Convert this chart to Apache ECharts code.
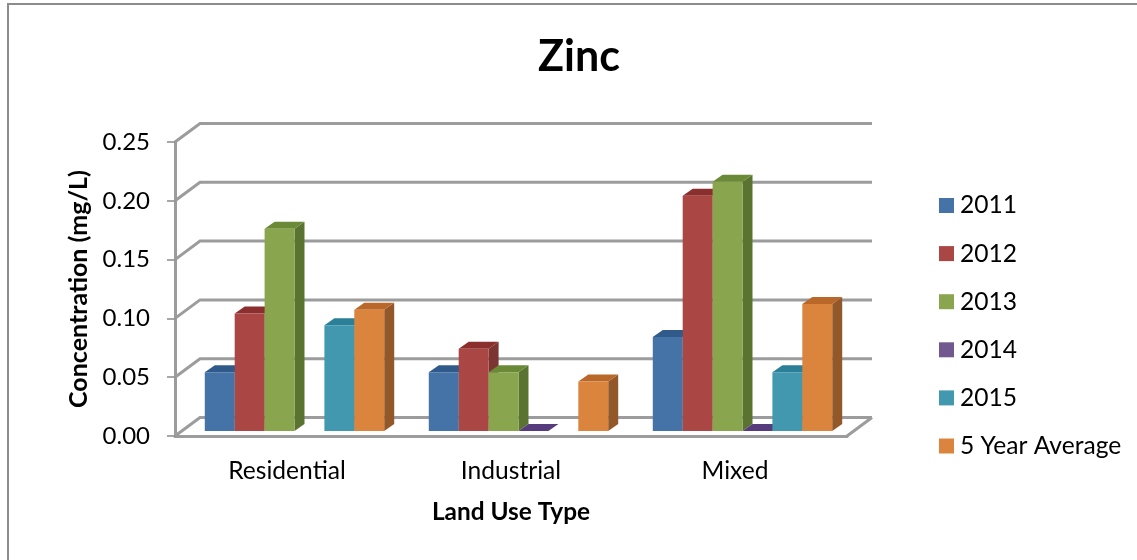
<!DOCTYPE html>
<html>
<head>
<meta charset="utf-8">
<style>html,body{margin:0;padding:0;background:#fff}#chart{width:1137px;height:560px}</style>
<script src="https://cdn.jsdelivr.net/npm/echarts@6/dist/echarts.min.js"></script>
</head>
<body>
<div id="chart"></div>
<script>
// Zinc concentration by land use type, drawn as sheared 3D-look columns.
const categories = ['Residential', 'Industrial', 'Mixed'];
const yTicks = [0, 0.05, 0.10, 0.15, 0.20, 0.25];

const s2011 = [0.05, 0.05, 0.08];
const s2012 = [0.10, 0.07, 0.20];
const s2013 = [0.172, 0.05, 0.212];
const s2014 = [null, 0, 0];
const s2015 = [0.09, null, 0.05];
const sAverage = [0.103, 0.042, 0.108];

const seriesNames = ['2011', '2012', '2013', '2014', '2015', '5 Year Average'];
const seriesValues = [s2011, s2012, s2013, s2014, s2015, sAverage];
const faceColors = ['#4573A7', '#AA4644', '#89A54E', '#71588F', '#4298AF', '#DB843D'];
const topColors = ['#2F5A8A', '#8A2F2D', '#6A8A38', '#563C7C', '#2B7F97', '#B9682A'];
const sideColors = ['#35557E', '#7C3432', '#5B7330', '#513D6B', '#2F6F82', '#93582A'];

const FONT = 'Lato, "Open Sans", sans-serif';
const GRID_COLOR = '#9C9C9C';
const GRID_WIDTH = 3;

// Oblique projection of the plot box
const WALL_DX = 25, WALL_DY = 18.5;
const BAR_INSET_DY = 5;
const BAR_DEPTH_DX = 10, BAR_DEPTH_DY = 7;
const BAR_WIDTH_RATIO = 0.1335;
const GROUP_SHIFT = 7.5;

function wallLines(params, api) {
  const p = api.coord([0, api.value(0)]);
  const band = api.size([1, 0])[0];
  const left = p[0] - band / 2;
  const right = left + band * categories.length;
  const children = [{
    type: 'polyline',
    shape: { points: [[left, p[1]], [left + WALL_DX, p[1] - WALL_DY], [right + WALL_DX, p[1] - WALL_DY]] },
    style: { fill: null, stroke: GRID_COLOR, lineWidth: GRID_WIDTH }
  }];
  if (api.value(0) === 0) {
    children.push({
      type: 'line',
      shape: { x1: right, y1: p[1], x2: right + WALL_DX, y2: p[1] - WALL_DY },
      style: { stroke: GRID_COLOR, lineWidth: GRID_WIDTH }
    });
  }
  return { type: 'group', children };
}

function columnRenderer(index) {
  return function (params, api) {
    const top = api.coord([api.value(0), api.value(1)]);
    const base = api.coord([api.value(0), 0]);
    const band = api.size([1, 0])[0];
    const w = band * BAR_WIDTH_RATIO;
    const x0 = top[0] + GROUP_SHIFT + (index - 3) * w;
    const x1 = x0 + w;
    const yTop = top[1] - BAR_INSET_DY;
    const yBase = base[1] - BAR_INSET_DY;
    const dx = BAR_DEPTH_DX, dy = BAR_DEPTH_DY;
    const poly = (points, fill) => ({ type: 'polygon', shape: { points }, style: { fill } });
    return {
      type: 'group',
      children: [
        poly([[x1, yBase], [x1 + dx, yBase - dy], [x1 + dx, yTop - dy], [x1, yTop]], sideColors[index]),
        poly([[x0, yTop], [x1, yTop], [x1 + dx, yTop - dy], [x0 + dx, yTop - dy]], topColors[index]),
        poly([[x0, yBase], [x1, yBase], [x1, yTop], [x0, yTop]], faceColors[index])
      ]
    };
  };
}

const columnSeries = seriesNames.map((name, i) => ({
  type: 'custom',
  name,
  itemStyle: { color: faceColors[i] },
  renderItem: columnRenderer(i),
  encode: { x: 0, y: 1 },
  z: 3 + i,
  clip: false,
  silent: true,
  data: seriesValues[i].map((v, c) => [c, v]).filter(d => d[1] !== null)
}));

const chart = echarts.init(document.getElementById('chart'), null, { renderer: 'canvas' });
chart.setOption({
  animation: false,
  backgroundColor: '#ffffff',
  title: {
    text: 'Zinc',
    left: 533, top: 31,
    textStyle: { fontFamily: FONT, fontWeight: 'bold', fontSize: 43, color: '#000' }
  },
  grid: { left: 175, right: 290, top: 142, bottom: 124, containLabel: false },
  legend: {
    orient: 'vertical',
    left: 934, top: 188,
    itemWidth: 15, itemHeight: 15, itemGap: 23.1,
    icon: 'rect',
    data: seriesNames,
    selectedMode: false,
    textStyle: { fontFamily: FONT, fontSize: 24.6, color: '#000', padding: [0, 0, 0, 1] }
  },
  xAxis: {
    type: 'category',
    data: categories,
    name: 'Land Use Type',
    nameLocation: 'middle',
    nameGap: 64,
    nameTextStyle: { fontFamily: FONT, fontWeight: 'bold', fontSize: 24.4, color: '#000' },
    axisLine: { show: true, lineStyle: { color: GRID_COLOR, width: GRID_WIDTH } },
    axisTick: { show: false },
    axisLabel: { fontFamily: FONT, fontSize: 24.6, color: '#000', margin: 23 }
  },
  yAxis: {
    type: 'value',
    min: 0, max: 0.25, interval: 0.05,
    name: 'Concentration (mg/L)',
    nameLocation: 'middle',
    nameGap: 82,
    nameRotate: 90,
    nameTextStyle: { fontFamily: FONT, fontWeight: 'bold', fontSize: 25, color: '#000' },
    axisLine: { show: true, lineStyle: { color: GRID_COLOR, width: GRID_WIDTH } },
    axisTick: { show: true, length: 8, lineStyle: { color: '#8a8a8a', width: 1.5 } },
    splitLine: { show: false },
    axisLabel: { fontFamily: FONT, fontSize: 24, color: '#000', margin: 25, formatter: v => v.toFixed(2) }
  },
  graphic: [{
    type: 'polyline',
    shape: { points: [[8, 560], [8, 4], [1137, 4]] },
    style: { fill: null, stroke: '#8C8C8C', lineWidth: 2 },
    silent: true
  }],
  series: [{
    type: 'custom',
    name: 'walls',
    renderItem: wallLines,
    encode: { y: 0 },
    z: 1,
    silent: true,
    data: yTicks.map(v => [v])
  }].concat(columnSeries)
});
</script>
</body>
</html>
